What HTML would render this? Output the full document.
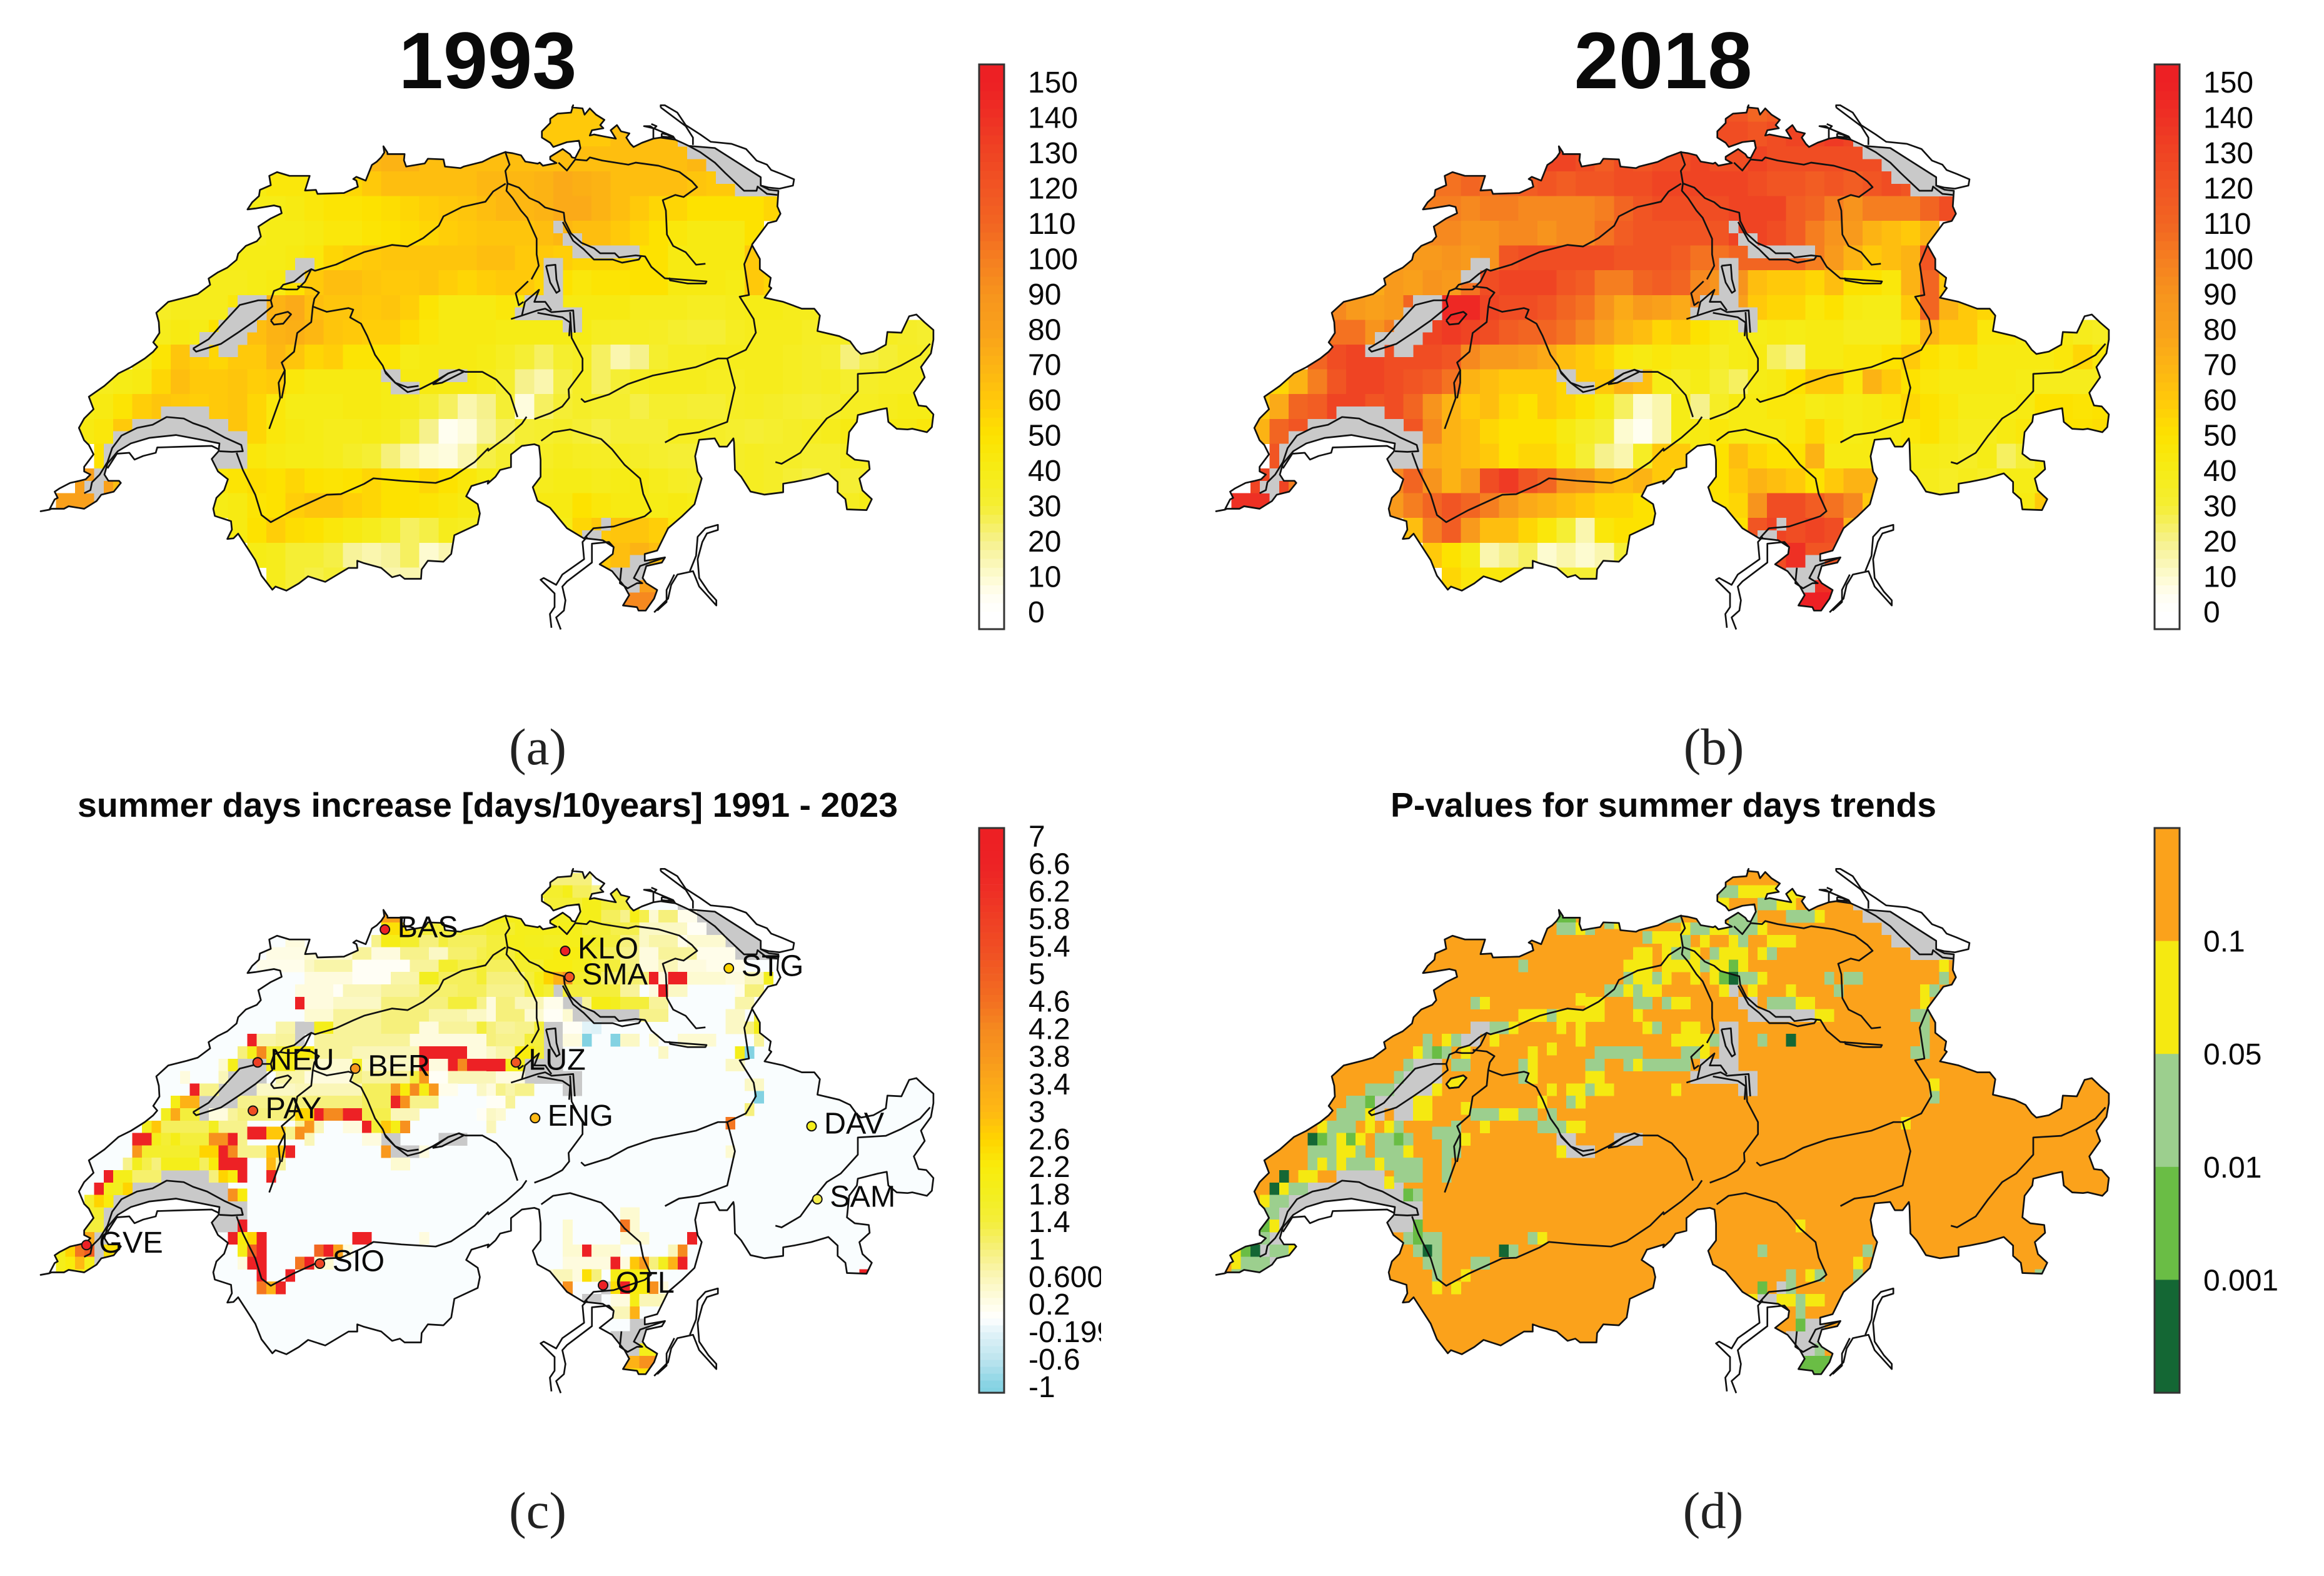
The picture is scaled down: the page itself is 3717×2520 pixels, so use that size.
<!DOCTYPE html>
<html lang="en">
<head>
<meta charset="utf-8">
<title>Summer days in Switzerland</title>
<style>
html,body{margin:0;padding:0;background:#fff}
svg{display:block}
text{font-family:"Liberation Sans",sans-serif;fill:#0a0a0a}
.cap{font-family:"Liberation Serif",serif;font-size:83px;fill:#222}
</style>
</head>
<body>
<svg id="fig" xmlns="http://www.w3.org/2000/svg" width="3717" height="2520" viewBox="0 0 3717 2520">
<defs>
<clipPath id="ch"><path id="chPath" d=""/></clipPath>
<clipPath id="tickClip"><rect x="1600" y="1300" width="161" height="960"/></clipPath>
</defs>
<rect width="3717" height="2520" fill="#fff"/>
<g id="pa"></g>
<g id="pb" transform="translate(1880,0)"></g>
<g id="pc" transform="translate(0,1221)"></g>
<g id="pd" transform="translate(1880,1221)"></g>
<text x="780" y="141" font-size="128" font-weight="700" text-anchor="middle">1993</text>
<text x="2660" y="141" font-size="128" font-weight="700" text-anchor="middle">2018</text>
<text x="124" y="1306" font-size="55" font-weight="700" textLength="1312" lengthAdjust="spacingAndGlyphs">summer days increase [days/10years] 1991 - 2023</text>
<text x="2224" y="1306" font-size="55" font-weight="700" textLength="873" lengthAdjust="spacingAndGlyphs">P-values for summer days trends</text>
<text class="cap" x="860" y="1222" text-anchor="middle">(a)</text>
<text class="cap" x="2741" y="1222" text-anchor="middle">(b)</text>
<text class="cap" x="860" y="2443" text-anchor="middle">(c)</text>
<text class="cap" x="2740" y="2443" text-anchor="middle">(d)</text>
</svg>
<script>
/* ---------- chart data ---------- */
const dayTicks=[0,10,20,30,40,50,60,70,80,90,100,110,120,130,140,150];
const trendTicks=["7","6.6","6.2","5.8","5.4","5","4.6","4.2","3.8","3.4","3","2.6","2.2","1.8","1.4","1","0.600","0.2","-0.199","-0.6","-1"];
const pTicks=["0.1","0.05","0.01","0.001"];
const pBreaks=[0.1,0.05,0.01,0.001];

/* summer days per coarse cell: [first column, values...] one entry per row */
const days1993=[
[26,[60,60,60,60]],
[26,[60,60,60,60,65,65,65,65,65]],
[17,[68,70,70,65,65,65,65,65,65,65,65,65,65,65,65,65,65,68,62,60,55]],
[11,[42,45,45,45,50,55,60,65,65,65,65,65,68,68,68,70,75,72,70,65,65,65,65,62,60,60,60,60]],
[11,[40,40,42,45,48,48,50,52,55,58,60,62,65,68,68,70,75,75,70,65,60,55,55,50,50,50,50,55]],
[11,[38,40,40,42,45,45,48,50,52,55,58,60,62,62,62,65,68,65,65,60,55,50,45,42,42,42,50]],
[9,[40,40,40,40,42,45,55,58,60,62,62,62,62,62,65,65,60,60,58,55,55,55,50,50,42,42,42,42,60]],
[7,[38,38,38,38,40,42,50,60,65,65,62,60,60,62,58,55,58,60,60,55,50,45,48,48,50,50,42,42,42,40,60,55]],
[6,[35,38,38,38,45,55,70,75,65,62,62,60,62,58,48,42,42,42,45,42,42,42,42,42,42,38,38,38,36,36,38,40,40,38,38]],
[6,[38,42,40,50,60,65,70,72,68,62,60,58,58,52,45,42,42,42,40,40,40,40,40,36,35,36,35,32,30,30,36,38,38,38,35,36,36,38,36,34,32]],
[5,[38,48,62,58,55,60,60,68,62,55,58,48,48,48,40,42,42,42,40,36,30,25,32,35,25,15,20,32,36,36,38,38,38,38,36,34,32,22,28,30,35,34]],
[3,[38,40,42,55,65,60,60,62,58,60,45,42,42,42,42,40,42,42,42,42,38,32,20,15,28,35,25,30,36,38,38,38,36,36,38,38,36,34,36,32,34,36,36,36]],
[2,[40,42,48,58,62,60,58,60,62,55,45,40,40,40,42,42,40,38,30,25,15,20,30,8,25,30,34,32,32,28,32,32,30,30,35,36,34,32,30,32,36,36,38,40,40]],
[2,[42,45,60,60,60,60,58,62,62,55,45,42,40,38,38,40,38,30,20,5,8,18,25,30,32,34,30,28,30,30,30,36,36,34,32,30,32,34,36,38,42,42,42,42,45]],
[3,[50,55,55,55,55,55,55,50,45,42,40,40,38,34,30,22,15,10,8,15,28,32,32,35,38,36,35,36,34,32,30,30,32,34,36,34,34,32,32,36,36,40]],
[2,[80,80,65,55,50,48,45,45,48,52,50,55,50,48,50,55,50,50,55,50,45,40,38,38,38,40,40,38,40,42,38,35,34,34,34,36,34,30,28,32,30,32,36]],
[1,[80,80,80,80,70,65,60,50,40,42,48,50,58,62,62,58,55,50,50,48,45,42,42,42,42,42,42,50,45,42,42,40,42,40,38,36,34,30,30,32,34,36,40]],
[10,[42,50,58,52,50,45,42,38,32,25,28,38,36,36,40,40,40,40,55,60,62,62,58,45]],
[11,[40,38,30,30,28,18,15,18,25,10,15,20,20,20,20,20,20,20,60,65,70,65]],
[12,[38,30,28,30,30,25,15,15,15,15,15,15,15,15,15,15,15,65,70,80,80]],
[30,[95,95,95]]
];
const days2018=[
[26,[125,120,110,115]],
[26,[125,125,120,125,130,130,135,130,130]],
[17,[130,130,125,115,125,120,125,125,130,125,125,130,125,125,125,125,125,125,130,125,120]],
[11,[105,105,110,105,110,115,120,115,120,120,125,125,130,130,130,130,130,125,120,120,115,120,115,120,125,120,125,125]],
[11,[100,100,95,100,100,95,95,95,95,100,110,120,125,125,125,125,130,130,130,115,110,100,90,100,100,100,110,125]],
[11,[95,95,90,90,95,95,90,95,95,105,115,120,120,120,120,120,130,130,125,115,100,90,85,70,65,60,70]],
[9,[85,85,85,90,85,90,120,125,125,125,125,125,120,120,120,115,105,105,110,110,110,110,100,85,70,60,65,70,120]],
[7,[75,75,85,80,90,85,105,125,130,130,130,120,115,100,100,110,115,110,95,90,90,65,60,60,55,65,50,50,45,70,110,60]],
[6,[95,85,80,85,110,110,145,145,130,125,125,120,110,105,90,75,85,80,75,95,80,80,60,55,55,45,50,42,40,40,60,110,70,60,55]],
[6,[105,105,90,100,120,130,135,130,125,115,110,110,105,95,80,70,65,55,60,50,42,40,40,42,40,42,42,38,38,38,45,70,60,60,45,45,42,45,42,38,36]],
[5,[110,125,130,130,125,125,125,120,95,85,85,80,75,65,60,55,45,42,45,42,42,35,40,42,25,20,42,42,45,45,50,60,50,45,48,42,42,42,42,45,55,45]],
[3,[55,70,100,120,130,130,125,120,115,105,70,65,60,60,60,55,60,60,70,65,40,35,40,30,25,40,42,50,60,60,45,70,60,50,45,42,42,42,42,40,38,38,38,38]],
[2,[60,75,110,115,130,130,120,125,110,90,70,60,65,55,50,60,55,48,40,25,10,15,40,20,35,42,42,45,45,40,42,40,42,45,55,50,45,40,40,40,42,50,50,48,50]],
[2,[70,110,120,115,110,120,130,130,120,95,70,65,55,50,50,50,42,35,30,10,5,15,40,42,45,42,42,42,45,55,45,40,42,42,45,50,42,38,38,42,45,45,50,50,52]],
[3,[120,125,120,120,120,120,120,120,75,70,65,60,50,55,55,45,30,20,15,35,60,60,42,50,65,55,50,50,70,42,42,42,42,40,40,38,35,40,25,30,42,40,45]],
[2,[130,130,100,90,90,90,90,95,110,90,70,85,125,135,120,110,90,85,70,65,70,60,50,45,50,60,70,65,60,50,60,70,70,42,40,38,35,38,35,40,40,42,42]],
[1,[140,140,135,135,130,125,110,100,85,100,110,120,110,100,85,75,70,65,60,55,55,50,50,50,50,50,55,90,125,125,115,105,95,60,50,42,40,38,38,38,40,42,60]],
[10,[65,100,115,85,65,65,55,45,30,15,45,50,50,50,50,50,50,50,120,130,125,130,125,70]],
[11,[60,50,40,15,20,25,10,15,10,15,30,30,30,30,30,30,30,110,125,140,120,120]],
[12,[55,45,45,45,45,40,30,30,30,30,30,30,30,30,30,30,30,130,130,140,140]],
[30,[150,150,150]]
];

/* trend per fine cell: [row, first col, last col, days/10yr] */
const trendBase=-0.04;
const trendCells=[
[4,36,37,3.6],[5,36,38,2.4],[5,39,48,1.4],[5,49,50,1.8],[6,26,27,.3],[6,35,35,.9],[6,36,37,2],[6,38,39,1.6],[6,40,41,1],[6,42,42,1.4],[6,43,46,1.2],[6,47,48,1.6],[6,49,50,2],
[7,24,27,.25],[7,28,32,.4],[7,33,34,.8],[7,35,37,.3],[7,38,40,.9],[7,41,42,.5],[7,43,45,1.1],[7,46,47,1.3],[7,48,50,1.7],
[8,23,27,.2],[8,28,28,.5],[8,29,32,.7],[8,33,38,.1],[8,39,41,.8],[8,42,43,1.6],[8,44,45,1.3],[8,46,50,1.5],
[9,28,32,.3],[9,33,36,.1],[9,37,39,.7],[9,40,41,1.8],[9,42,45,1.2],[9,46,50,1.5],
[10,27,30,.3],[10,31,31,.1],[10,32,35,.6],[10,36,39,.8],[10,40,43,1.1],[10,44,50,1.2],
[11,27,27,6.8],[11,28,30,.3],[11,31,35,.5],[11,36,42,1],[11,43,45,1.4],[11,46,47,.9],[11,48,50,1.1],
[12,28,30,.4],[12,31,35,.8],[12,36,40,1],[12,41,44,.7],[12,45,47,.5],[12,48,50,1],
[13,25,26,.7],[13,29,30,1.9],[13,31,35,.8],[13,36,39,1],[13,40,41,.3],[13,42,45,.8],[13,46,46,1.4],[13,47,50,.6],
[14,22,22,6.8],[14,23,24,.7],[14,25,26,.8],[14,29,38,.8],[14,39,50,.3],
[15,21,21,1],[15,22,22,1.9],[15,23,23,4.2],[15,24,25,1.5],[15,26,28,2.2],[15,29,32,.8],[15,33,39,.6],[15,40,44,6.8],[15,45,50,.3],
[16,19,19,.4],[16,20,20,1.9],[16,24,26,1.9],[16,27,28,.8],[16,29,32,.4],[16,33,33,1.8],[16,34,39,.5],[16,40,40,6.8],[16,41,42,.3],[16,43,43,6.8],[16,44,44,4.2],[16,45,48,6.8],[16,49,50,1.8],
[17,15,15,.3],[17,19,19,.6],[17,25,27,.7],[17,28,32,.3],[17,33,33,1],[17,34,38,.8],[17,39,39,1.4],[17,40,40,3.8],[17,41,42,.1],[17,43,47,.6],[17,48,50,.3],
[18,16,16,6.8],[18,17,18,.9],[18,23,26,.5],[18,27,33,.6],[18,34,36,1.2],[18,37,37,3.8],[18,38,38,2.2],[18,39,39,4.2],[18,40,40,2],[18,41,41,3.8],[18,42,43,.2],[18,46,48,.5],
[19,14,14,2],[19,15,16,3.2],[19,21,26,.9],[19,27,33,1],[19,34,36,1.2],[19,37,37,6.5],[19,38,38,4],[19,39,41,.9],[19,49,49,.8],
[20,13,13,1.8],[20,14,14,3.4],[20,15,16,1.4],[20,18,19,.3],[20,20,20,.8],[20,21,26,1],[20,27,28,2.6],[20,29,29,6.8],[20,30,31,4.2],[20,32,33,6.8],[20,34,36,1.3],[20,37,39,.6],[20,46,47,.1],
[21,11,11,1.8],[21,12,12,2.8],[21,13,17,1.2],[21,18,18,1.8],[21,19,21,.9],[21,27,27,.8],[21,28,28,3.8],[21,29,29,.6],[21,32,33,.3],[21,34,34,6.8],[21,35,35,1.5],[21,36,36,2.8],[21,37,37,2],[21,38,38,4],
[21.5,22,23,6.8],[21.5,24,25,2.8],[21.5,26,26,.9],[21.5,27,27,4],
[22,10,11,6.5],[22,12,12,1.9],[22,13,13,1.5],[22,14,14,2],[22,15,17,1.4],[22,18,19,4],[22,20,20,6.8],[22,21,21,.9],[22,28,28,.6],[22,34,35,.3],
[23,10,10,3.8],[23,11,16,1.6],[23,17,18,2.6],[23,19,19,6.8],[23,20,20,4.2],[23,21,23,.9],[23,24,25,2.8],[23,26,26,6.5],[23,36,36,3.8],[23,40,40,.3],
[24,9,9,.9],[24,10,10,1.8],[24,11,11,1.3],[24,12,12,1],[24,13,16,1.9],[24,17,17,1.2],[24,18,18,2.2],[24,19,21,6.8],[24,24,24,3],[24,25,25,.8],[24,37,38,.4],
[25,7,7,6.8],[25,8,9,1.9],[25,10,12,1.1],[25,18,18,1],[25,19,19,2.6],[25,20,20,2.2],[25,21,21,6.8],[25,24,24,6.5],
[26,6,6,6.8],[26,7,7,1.9],[26,8,8,1.8],[26,9,9,2.6],[26.5,20,20,4],[26.5,21,21,2.2],
[27,5,5,1.6],[27,6,6,2.6],[27,7,7,2.2],[28,5,6,1.6],[29,5,6,1.4],[29,21,21,6.8],
[30,5,5,3.4],[30,20,20,6.8],[30,21,21,2.2],[30,22,22,2.6],[30,23,23,6.8],[30,33,34,6.8],[30,40,40,.3],
[31,2,2,1.8],[31,3,3,2.6],[31,4,4,4.5],[31,5,5,5],[31,7,8,2.4],[31,21,21,2],[31,22,22,5],[31,23,23,6.8],[31,29,29,4.8],[31,30,30,6.8],[31,31,31,3.6],[31,32,32,.3],
[32,2,2,1.9],[32,3,3,2.2],[32,4,4,3],[32,5,5,1.9],[32,21,21,.3],[32,22,23,6.8],[32,27,27,4.5],[32,28,28,6.8],[32,29,30,.4],
[33,2,5,2],[33,23,23,6.8],[33,26,26,6.8],[34,23,23,4.5],[34,24,24,3.2],[34,25,25,6.5],
[1,53,57,1],[2,52,52,1.4],[2,53,54,1.6],[2,55,55,1.9],[2,56,57,1.2],[2,58,59,.9],[2,60,61,1.5],[3,53,56,1.5],[3,57,58,1.9],[3,59,62,1.4],
[4,47,52,1.9],[4,53,56,1.8],[4,57,58,1.9],[4,59,60,1.2],[4,61,61,.9],[4,62,62,2],[4,63,63,1.3],[4,64,64,.4],[4,65,66,1],[4,67,68,.2],
[5,47,49,1.6],[5,50,56,1.9],[5,57,59,1.5],[5,60,62,1.3],[5,63,67,.5],[5,68,69,.1],
[6,47,48,1.4],[6,49,50,1.9],[6,51,52,1.8],[6,53,54,1.7],[6,55,56,1.9],[6,57,58,1.7],[6,59,60,1.4],[6,61,62,1],[6,63,63,.5],[6,64,66,.7],[6,67,67,.2],[6,68,71,.4],
[7,47,49,1.4],[7,50,53,1.9],[7,54,56,2.1],[7,57,58,1.6],[7,59,60,1.2],[7,61,62,.9],[7,63,64,.3],[7,65,68,.8],[7,69,72,.2],
[8,47,49,1.2],[8,50,52,1.6],[8,53,55,2.1],[8,56,57,1.9],[8,58,60,1.4],[8,61,62,1],[8,63,64,.3],[8,65,66,.6],[8,67,69,.3],[8,70,73,.2],
[9,47,50,1],[9,51,51,1.4],[9,52,52,2],[9,53,53,2.6],[9,54,54,3.2],[9,55,55,4],[9,56,58,1.6],[9,59,62,1.1],[9,63,63,1],[9,64,64,6.8],[9,65,65,.3],[9,66,67,6.8],[9,68,71,.4],[9,72,73,.3],[9,74,75,.6],[9,76,76,1.8],
[10,47,50,.9],[10,51,51,1.3],[10,52,52,1.8],[10,53,53,1.5],[10,55,60,1.4],[10,61,62,.8],[10,64,64,.3],[10,65,65,6.8],[10,66,67,.5],[10,73,73,.2],[10,74,75,1],
[11,47,47,.3],[11,48,49,1],[11,50,52,.6],[11,53,54,.2],[11,57,57,.8],[11,58,59,2],[11,60,60,1.8],[11,61,63,1.4],[11,64,65,.8],[11,73,74,.7],
[12,47,47,.3],[12,48,50,1],[12,51,52,.4],[12,53,54,.1],[12,55,55,.4],[12,63,65,.9],[12,72,73,.5],[12,75,75,1.4],
[13,47,47,1],[13,48,49,.8],[13,50,51,.9],[13,52,52,1.5],[13,55,56,.1],[13,57,57,-.2],[13,58,58,-.25],[13,72,73,.5],[13,74,74,1],[13,75,75,1.9],
[14,47,47,1],[14,48,50,.9],[14,51,52,1.4],[14,55,56,.3],[14,57,57,-1],[14,60,60,-1],[14,61,62,.5],[14,64,64,.4],[14,67,70,.4],[14,75,75,.8],
[15,47,47,.5],[15,48,49,.7],[15,50,51,2.2],[15,52,52,1.5],[15,65,65,.5],[15,73,73,1.9],[15,74,74,-1],
[16,47,48,6.8],[16,49,50,1.9],[16,72,73,.5],[18,47,47,.3],[18,48,48,.9],[18,49,49,.7],[18,50,51,.9],[17.6,74,75,.5],[18.6,75,75,-1],
[19,47,48,.1],[19,49,49,.8],[20,47,47,.5],[20,48,48,.4],[19.6,74,74,1],[21,47,47,.6],[20.7,72,72,4.5],[23,72,72,.4],
[28,61,62,.4],[29,55,55,.4],[29,61,61,4.5],[29,62,62,.4],[30,55,55,.4],[30,61,63,.4],[30,68,68,6.8],[31,55,56,.4],[31,57,57,6.8],[31,58,60,.4],[31,66,66,.6],[31,67,67,4.2],
[32,55,59,.3],[32,60,60,6.8],[32,61,61,.3],[32,62,62,2.8],[32,63,63,3.8],[32,64,64,1],[32,65,65,1.8],[32,66,66,3.2],[32,67,67,6.8],
[33,53,53,.4],[33,54,55,.6],[33,56,56,.3],[33,57,57,2.4],[33,58,58,1],[33,60,63,2],[33,86,86,6.8],[34,55,55,4],[34,60,60,2.4],[34,61,61,6.8],[34,62,63,2.2],[34,64,64,4],[34,65,65,.3],
[35,60,61,.3],[35,62,62,2],[35,63,65,.6],[36,59,61,.6],[36,62,62,3.2],[39,63,64,1.9],[40,61,62,3.2],[40,63,64,4],[41,60,64,2.4]
];

/* p-value per fine cell: [row, first col, last col, p]; all other land cells use pBase */
const pBase=0.2;
const pValueCells=[
[4,36,37,.005],[5,36,37,.03],[5,38,38,.07],[5,39,39,.03],[4.5,41,41,.03],[4.5,42,42,.07],[5.7,45,45,.03],[5.7,46,48,.07],
[7,44,45,.07],[7,47,47,.07],[8,32,32,.03],[8,43,45,.07],[8,47,47,.07],[8,48,49,.07],[9,43,43,.03],[9,44,45,.07],[9,46,46,.03],[9,47,47,.07],
[10,41,42,.03],[10,43,43,.07],[10,44,44,.03],[10,45,46,.07],[10.7,38,38,.07],[11,27,27,.03],[11,28,28,.07],[11,39,40,.07],[11,44,45,.03],[11,47,47,.07],[11,48,48,.03],[11,49,49,.07],
[12,32,34,.07],[12,35,35,.03],[12,36,40,.07],[12,44,44,.07],[13,29,30,.03],[13,31,31,.07],[13,36,36,.07],[13,38,38,.07],[13,45,45,.07],[13,46,46,.03],[13,50,50,.07],
[14,22,22,.03],[14,24,24,.07],[14,25,25,.03],[14,29,29,.07],[14,38,38,.07],[14,48,50,.07],[14.7,35,35,.07],
[15,21,21,.07],[15,22,22,.03],[15,23,23,.005],[15,24,24,.03],[15,26,26,.07],[15,33,33,.07],[15,40,44,.03],[15,49,50,.03],
[16,20,20,.03],[16,25,26,.03],[16,32,32,.03],[16,33,33,.07],[16,39,40,.03],[16,43,43,.03],[16,44,44,.07],[16,45,48,.03],
[17,19,19,.03],[17,32,32,.03],[17,33,33,.07],[17,39,40,.07],
[18,16,18,.03],[18,23,23,.07],[18,35,35,.07],[18,37,38,.07],[18,39,39,.03],[18,40,41,.07],[18,48,48,.07],
[19,14,15,.03],[19,16,16,.005],[19,21,22,.07],[19,34,34,.07],[19,37,37,.03],[19,38,38,.07],[19.5,26,26,.07],
[20,13,15,.03],[20,16,16,.07],[20,21,22,.07],[20,27,29,.03],[20,30,31,.07],[20,32,33,.03],[20,35,35,.03],
[21,11,11,.07],[21,12,14,.03],[21,16,16,.07],[21,18,18,.07],[21,19,19,.03],[21,25,25,.03],[21,28,28,.07],[21,34,36,.03],[21,37,38,.07],[21.5,23,25,.03],
[22,10,10,.0005],[22,11,11,.005],[22,12,12,.03],[22,13,13,.07],[22,14,14,.005],[22,15,15,.07],[22,17,18,.03],[22,19,19,.005],[22,20,20,.03],[22,24,25,.03],[22,26,26,.07],
[23,10,12,.03],[23,13,14,.07],[23,15,15,.03],[23,17,19,.03],[23,20,20,.07],[23,24,25,.03],[23,36,36,.07],
[24,10,10,.03],[24,11,11,.07],[24,12,12,.03],[24,13,13,.07],[24,14,16,.03],[24,17,17,.07],[24,18,21,.03],[24,24,24,.03],
[25,7,7,.0005],[25,9,10,.07],[25.5,18,18,.07],[25,19,21,.03],[25,24,24,.03],
[26,6,6,.0005],[26,7,7,.07],[26,8,9,.03],[26.5,20,20,.005],[26.5,21,21,.03],
[27,5,5,.07],[27,6,7,.03],[28,5,6,.03],[29,5,5,.005],[29,6,6,.07],[29,21,21,.005],
[30,5,5,.03],[30,20,20,.03],[30,21,21,.005],[30,22,23,.03],[30,33,33,.03],[30,34,34,.07],
[31,2,3,.07],[31,3,4,.005],[31,4,4,.0005],[31,6,7,.03],[31,8,8,.07],[31,21,21,.03],[31,22,22,.0005],[31,23,23,.03],[31,30,30,.0005],[31,31,31,.03],
[32,2,2,.07],[32,3,5,.03],[32,22,23,.03],[32,27,28,.03],[33,2,5,.03],[33,23,23,.03],[33,26,26,.07],[34,23,23,.07],[34,25,25,.07],
[2,53,54,.03],[2,55,58,.07],[2,60,61,.07],[3,52,53,.07],[3,57,58,.03],[3,59,60,.07],
[4,47,48,.03],[4,54,56,.03],[4,60,62,.03],[4,63,63,.07],[5,49,49,.07],[5,50,51,.03],[5,52,53,.07],[5,54,56,.03],[5,57,57,.07],
[6,47,48,.07],[6,49,49,.03],[6,51,51,.07],[6,54,54,.07],[6,55,55,.03],[6,58,60,.07],
[7,47,47,.07],[7,48,49,.03],[7,50,50,.07],[7,52,52,.03],[7,53,55,.07],[7,57,57,.07],[7,58,58,.03],
[8,47,49,.07],[8,50,50,.07],[8,51,51,.03],[8,52,53,.07],[8,54,54,.005],[8,55,55,.07],[8,76,76,.07],
[9,50,50,.07],[9,52,52,.07],[9,53,53,.005],[9,54,54,.0005],[9,55,56,.03],[9,57,57,.07],[9,64,64,.03],[9,66,67,.03],[9,76,76,.03],
[10,53,53,.07],[10,56,56,.07],[10,60,60,.07],[10,65,65,.03],[10,74,74,.07],[10,75,75,.03],
[11,47,47,.03],[11,48,48,.07],[11,58,60,.03],[11,61,62,.07],[11,74,74,.07],
[12,63,64,.07],[12,73,73,.03],[12,74,74,.03],[13,49,49,.07],[13,74,74,.03],
[14,48,49,.07],[14,51,51,.07],[14,52,52,.03],[14,57,57,.03],[14,60,60,.0005],[14,74,74,.03],
[15,49,50,.03],[15,51,51,.07],[15,73,74,.03],[16,47,49,.03],[18,48,48,.07],[17.6,75,75,.07],[18.6,75,75,.03],[20.7,72,72,.07],
[29,61,61,.07],[31,57,57,.03],[31,68,68,.03],[32,67,67,.07],[33,60,60,.03],[33,62,62,.07],[33,63,63,.03],[33,67,67,.03],[33,86,86,.03],
[34,57,57,.005],[34,60,60,.03],[35,55,56,.07],[35,59,60,.07],[35,61,61,.03],[35,62,63,.07],[36,61,61,.03],[37,61,61,.005],[39,63,63,.03],[40,61,64,.005],[41,60,63,.005]
];

/* cells with no data (lakes): [row, first col, last col] */
const lakeCells=[
[13,27,28],[14,26,27],[16,21,23],[17,20,23],[18,19,22],[19,17,21],[20,16,17],[20,19,20],
[25,13,17],[26,10,19],[27,8,21],[28,7,21],[29,7,8],[29,18,21],[30,6,7],[31,5,6],[32,6,6],
[22,36,37],[23,37,39],[22,42,44],
[13,53,54],[14,53,54],[15,53,54],[16,51,54],[17,50,56],[18,55,56],
[10,54,54],[11,55,56],[12,56,62],
[3,67,68],[4,68,75],[5,70,76],[6,71,75],[7,73,77],
[34,59,59],[35,57,58],[37,62,63],[38,60,63],[39,61,62]
];

const stationNames=["BAS","NEU","BER","PAY","GVE","SIO","LUZ","KLO","SMA","STG","ENG","DAV","SAM","OTL"];
const stationValues=[6.6,5.8,3.8,5.4,6.8,5.6,5.2,6.8,5.2,2.6,3.0,1.9,1.3,6.8];
const stationCols=[36.4,23.1,33.3,22.6,5.2,29.6,50.1,55.25,55.7,72.35,52.1,81,81.6,59.2];
const stationRows=[5.57,16.3,16.8,20.2,31.05,32.55,16.3,7.3,9.4,8.7,20.8,21.45,27.35,34.3];

/* colour ramps: [value, colour] */
const dayRamp=[[0,"#ffffff"],[5,"#fffef0"],[10,"#fdfbd0"],[20,"#f6f18c"],[30,"#f5ee34"],[40,"#f6ec16"],[50,"#fde200"],[60,"#ffc90a"],[70,"#fcb314"],[80,"#f9a01b"],[90,"#f7941d"],[100,"#f57e20"],[110,"#f26522"],[120,"#f15523"],[130,"#ef4423"],[140,"#ee3024"],[150,"#ed2024"]];
const trendRamp=[[-1,"#83d2e2"],[-.6,"#bce4ee"],[-.2,"#e2f3f8"],[0,"#ffffff"],[.2,"#fffdea"],[.6,"#faf6b8"],[1,"#f6f07c"],[1.4,"#f4ee3c"],[1.8,"#f3ee1f"],[2.2,"#f9ec0c"],[2.6,"#ffd400"],[3,"#feb913"],[3.4,"#fbaa18"],[3.8,"#f8981d"],[4.2,"#f58a1f"],[4.6,"#f37021"],[5,"#f15e22"],[5.4,"#f04d23"],[5.8,"#ef3f24"],[6.2,"#ee2f25"],[6.6,"#ed2225"],[7,"#ed2024"]];
const pColours=["#fba21b","#f5e911","#9ccf8e","#6abd45","#146734"];

/* base-map geometry, traced in three reference frames */
const outlineWestA=[10,1203,38,1198,55,1165,65,1160,55,1140,70,1130,105,1112,135,1105,155,1100,170,1085,150,1075,150,1060,180,1020,165,990,150,975,133,935,150,905,180,875,165,835,215,800,260,760,300,740,345,712,372,690,385,675,372,660,392,630,390,595,382,565,420,530,480,515,515,505,555,475,550,455,580,435,610,420,640,395,645,375,670,350,705,335,718,320,710,288,750,262,785,245,780,225,760,220,700,230,675,233,690,210,712,190,715,170,750,155,745,125,770,113,810,125,875,125,860,172,895,170,900,183,985,180,1030,160,1025,140,1015,135,1025,128,1055,140,1075,90,1090,80,1105,65,1115,50,1112,30,1125,50,1125,55,1180,55,1178,75,1185,95,1245,85,1255,70,1305,72,1310,95,1360,100,1370,95,1430,80,1460,65,1505,48];
const outlineNorth=[25,310,60,315,100,325,120,355,180,365,190,360,205,375,270,362,240,345,240,332,300,295,335,320,345,335,360,338,385,290,378,255,320,262,255,285,240,265,200,240,200,210,240,170,240,150,275,125,340,120,350,85,345,95,395,100,405,130,430,100,460,130,500,155,480,180,495,195,440,205,430,230,450,225,500,235,555,245,530,205,560,180,580,210,620,220,605,240,625,270,640,285,680,265,735,245,770,240,840,250,880,268,905,280,1030,290,1250,430,1250,470,1290,490,1335,495,1330,570,1345,605,1325,640,1285,650,1209,752];
const outlineEast=[850,425,875,465,875,495,910,520,905,545,912,550,890,578,950,590,1010,610,1050,610,1068,630,1060,675,1130,690,1165,705,1185,730,1200,742,1240,735,1280,715,1285,678,1330,680,1355,632,1378,627,1405,650,1433,672,1433,700,1425,740,1393,780,1405,810,1370,855,1385,892,1410,895,1433,918,1428,955,1412,970,1365,960,1350,962,1315,960,1288,940,1283,900,1255,905,1190,920,1187,940,1162,970,1155,1033,1180,1050,1225,1055,1228,1078,1195,1105,1205,1140,1235,1165,1218,1197,1155,1195,1150,1165,1125,1145,1125,1115,1095,1090,1040,1105,985,1115,950,1120,950,1145,890,1152,845,1143,815,1100,795,1080,792,1000,790,988,770,1012,745,1012,730,988,680,992,667,1040,675,1085,688,1105,665,1180,625,1215,580,1250,545,1315,505,1325,505,1345,570,1335,560,1350,510,1360,498,1395,510,1410,545,1430,535,1455,508,1490,485,1490,480,1480,435,1475,455,1445,440,1420,400,1375,360,1355,402,1325,405,1305,370,1285,320,1280,310,1280,255,1250,200,1190,160,1170,145,1130,170,1100,170,1050,165,1010,150,1005,110,1010,75,1035,75,1072,40,1080,25,1100,0,1120];
const outlineWestB=[1450,1105,1395,1122,1378,1155,1415,1180,1422,1210,1415,1245,1340,1280,1330,1340,1305,1365,1255,1362,1235,1390,1233,1420,1180,1420,1165,1408,1140,1415,1105,1385,1050,1370,1028,1362,1028,1385,1000,1385,925,1430,870,1412,840,1435,800,1458,765,1445,755,1455,720,1410,700,1360,645,1275,630,1290,610,1292,625,1262,622,1235,570,1218,565,1195,575,1160,600,1135,612,1100,580,1075,560,1035,582,1010,585,985,520,972,445,958,360,967,300,985,258,1010,225,1050,215,1085,228,1105,262,1105,268,1112,245,1140,205,1150,190,1170,150,1195,100,1187,85,1195,45,1195,38,1198,10,1203];
const linesWest=[
[780,487,790,475,825,465,855,440,880,425,860,465,835,490,800,490,780,487],
[880,425,892,430,960,410,1015,385,1050,370,1140,347,1190,352,1240,325,1290,285,1305,255,1365,225,1440,208,1465,175,1505,150],
[500,680,550,650,590,605,650,540,710,525,750,525,755,545,700,590,650,625,590,665,510,690,500,680],
[750,525,760,495,780,487],
[835,480,880,485,905,500,890,520,885,545,930,562,1000,550,1015,555,1005,580,1040,600,1060,640,1085,700,1110,735,1120,760,1150,790,1190,820,1230,810,1270,790,1320,760,1355,748,1375,755,1430,755,1475,780,1520,830,1543,900],
[885,545,880,595,835,630,825,690,785,725,795,750,775,790,780,840,745,938],
[795,750,795,790,785,840],
[750,590,765,572,805,562,815,570,790,600,760,603,750,590],
[1115,750,1150,790,1190,805,1225,800],
[1270,795,1320,760,1355,748,1370,755,1300,790,1270,795],
[640,1015,660,1070,700,1150,720,1215,750,1238,820,1200,930,1150,975,1148,1050,1115,1080,1097,1170,1105,1280,1112,1330,1095,1405,1045,1450,1000],
[150,1145,170,1135,175,1110,200,1085,225,1045,240,1000,270,960,320,935,370,925,415,900,470,905,500,920,545,935,600,965,655,990,660,1010,625,1012,585,1010],
[225,1065,255,1018,295,1015,312,1037,340,1025,380,1015,385,998,480,995,560,993,585,1005]
];
const linesNorth=[
[280,360,320,398,360,345,415,350,430,335,490,350,615,370,650,360,760,375,860,405,920,450,945,478,880,525,840,515,780,540,795,590,800,705,830,760,890,790,940,850,985,845],
[25,310,45,370,25,400,35,460,30,495,60,530,100,590,130,625,175,725,175,800,185,855,150,920],
[35,460,90,480,140,530,185,550,215,575,305,600,310,640,340,700,390,745,450,770,480,795,550,795,570,815,650,805,695,810,725,860,790,915,990,930,985,940,900,940,815,925,810,912],
[300,645,350,735,400,775,450,825,540,825,585,840,665,825,675,810],
[220,855,265,850,270,920,285,975,270,985,240,935,220,855],
[770,95,770,85,790,85,850,120,890,180,960,225,1010,260,1110,270,1180,295,1230,350,1280,370,1300,395,1350,415,1410,440,1405,470,1340,485,1290,480,1250,470],
[770,95,890,185,925,240,925,275],
[905,280,960,310,1030,360,1080,410,1170,495,1230,495,1235,475,1280,510,1330,515],
[735,245,735,195,690,185,720,185,735,195,830,235,840,250],
[775,220,800,225,830,240,775,235,775,220],
[725,175,750,185,740,195]
];
const linesEast=[
[130,530,90,565,100,600,115,590],
[0,1025,60,985,110,945,125,925],
[150,932,200,915,240,895,262,870,260,845,305,790,305,755,270,695,265,620],
[172,995,210,970,265,962,330,980,365,990,400,1020,440,1065,490,1105,500,1150,525,1200,505,1215,405,1245,340,1250,310,1280],
[300,872,312,882,390,860,450,830,530,805,670,780,740,755,770,755,830,730,862,680,855,640,810,575,840,570,825,480,850,425],
[770,755,795,840,770,940,680,970,615,978,570,1000],
[1422,712,1390,745,1330,775,1280,795,1190,800,1190,850,1135,905,1090,930,1045,980,1005,1030,945,1062,925,1057],
[75,640,110,630,160,615,185,610,205,620,275,615,280,680],
[160,622,240,635,265,650,262,690],
[110,630,120,590,165,555,150,590,185,590,205,615],
[430,1365,425,1410,450,1425,480,1410,497,1410,470,1395,490,1360,570,1335],
[205,1540,200,1500,215,1480,215,1440,170,1400,180,1395,220,1415,240,1385,310,1340,305,1290,320,1275],
[235,1545,220,1510,245,1490,250,1460,240,1420,255,1405,335,1350,335,1295,390,1290,405,1305],
[535,1495,580,1455,590,1415,610,1385,660,1375,680,1420,700,1440,735,1475,735,1460,710,1435,680,1395,675,1340,690,1290,705,1265,740,1255,740,1240,700,1250,675,1275,670,1330,650,1375],
[545,1490,575,1465,575,1430,600,1385]
];
const murtenWest=[750,590,765,572,805,562,815,570,790,600,760,603,750,590];

/* ---------- axis functions ---------- */
const NS="http://www.w3.org/2000/svg";
const fineX=k=>58.7+15.3*k, fineY=m=>155+19.8*m;
const coarseX=c=>58.7+30.6*c, coarseY=r=>155+39.6*r;
const westPt=(x,y)=>[60+x/2.01,219+y/2.01], eastPt=(x,y)=>[780+x/2.01,159+y/1.823], northPt=(x,y)=>[800+x/3,140+y/3];
const barTop=103, barBottom=1006;
function dayBandY(v){return barBottom-(v+5)/160*(barBottom-barTop);}
function trendLabelY(i){return 116.5+i*44.03;}
function trendValueY(v){return 116.5+(7-v)/0.4*44.03;}

function hex(c){return [1,3,5].map(i=>parseInt(c.substr(i,2),16));}
function rampColour(ramp,v){
  if(v<=ramp[0][0])return ramp[0][1];
  for(let i=1;i<ramp.length;i++){
    if(v<=ramp[i][0]){
      const a=ramp[i-1],b=ramp[i],t=(v-a[0])/(b[0]-a[0]),x=hex(a[1]),y=hex(b[1]);
      return "rgb("+x.map((q,j)=>Math.round(q+(y[j]-q)*t)).join(",")+")";
    }
  }
  return ramp[ramp.length-1][1];
}
function pColour(p){
  let idx=0;
  pBreaks.forEach((b,i)=>{if(p<=b)idx=i+1;});
  return pColours[idx];
}
function toPath(list,fn,closed){
  let d="";
  for(let i=0;i<list.length;i+=2){
    const q=fn(list[i],list[i+1]);
    d+=(i?"L":"M")+q[0].toFixed(1)+" "+q[1].toFixed(1);
  }
  return d+(closed?"Z":"");
}
function outlinePath(){
  const pts=[];
  const add=(l,f)=>{for(let i=0;i<l.length;i+=2)pts.push(f(l[i],l[i+1]));};
  add(outlineWestA,westPt);add(outlineNorth,northPt);add(outlineEast,eastPt);add(outlineWestB,westPt);
  return pts.map((q,i)=>(i?"L":"M")+q[0].toFixed(1)+" "+q[1].toFixed(1)).join("")+"Z";
}
const OUTLINE=outlinePath();
document.getElementById("chPath").setAttribute("d",OUTLINE);

function addRect(parent,x,y,w,h,fill){
  const r=document.createElementNS(NS,"rect");
  r.setAttribute("x",x.toFixed(1));
  r.setAttribute("y",y.toFixed(1));
  r.setAttribute("width",w.toFixed(1));
  r.setAttribute("height",h.toFixed(1));
  r.setAttribute("fill",fill);
  parent.appendChild(r);
  return r;
}
function mapGroup(panel){
  const g=document.createElementNS(NS,"g");
  g.setAttribute("clip-path","url(#ch)");
  g.setAttribute("shape-rendering","crispEdges");
  
  
  panel.appendChild(g);
  return g;
}
function drawLakes(g){
  lakeCells.forEach(s=>{
    const r=addRect(g,fineX(s[1]),fineY(s[0]),15.3*(s[2]-s[1]+1)+.4,20.2,"#c9c9c9");
    
    
  });
}
function drawCoarse(g,rows,ramp){
  rows.forEach((row,r)=>{
    row[1].forEach((v,i)=>{
      const c=addRect(g,coarseX(row[0]+i),coarseY(r),31,40,rampColour(ramp,v));
      
      
    });
  });
}
function drawBaseMap(panel,lakeFill){
  const g=document.createElementNS(NS,"g");
  
  
  g.setAttribute("fill","none");
  g.setAttribute("stroke","#111");
  g.setAttribute("stroke-width","2.7");
  g.setAttribute("stroke-linejoin","round");
  panel.appendChild(g);
  if(lakeFill){
    const m=document.createElementNS(NS,"path");
    m.setAttribute("d",toPath(murtenWest,westPt,true));
    m.setAttribute("fill",lakeFill);
    
    
    g.appendChild(m);
  }
  const o=document.createElementNS(NS,"path");
  o.setAttribute("d",OUTLINE);
  
  
  g.appendChild(o);
  linesWest.forEach(l=>{
    const p=document.createElementNS(NS,"path");
    p.setAttribute("d",toPath(l,westPt,false));
    
    
    g.appendChild(p);
  });
  linesNorth.forEach(l=>{
    const p=document.createElementNS(NS,"path");
    p.setAttribute("d",toPath(l,northPt,false));
    
    
    g.appendChild(p);
  });
  linesEast.forEach(l=>{
    const p=document.createElementNS(NS,"path");
    p.setAttribute("d",toPath(l,eastPt,false));
    
    
    g.appendChild(p);
  });
}
function addTick(parent,x,y,label){
  const t=document.createElementNS(NS,"text");
  t.setAttribute("x",x);
  t.setAttribute("y",y);
  t.setAttribute("font-size","48");
  t.textContent=label;
  
  
  parent.appendChild(t);
}
function barFrame(parent){
  const f=document.createElementNS(NS,"rect");
  f.setAttribute("x",1566);
  f.setAttribute("y",barTop);
  f.setAttribute("width",40);
  f.setAttribute("height",barBottom-barTop);
  f.setAttribute("fill","none");
  f.setAttribute("stroke","#333");
  f.setAttribute("stroke-width","3");
  
  
  parent.appendChild(f);
}
function dayColorbar(panel){
  const g=document.createElementNS(NS,"g");
  
  
  panel.appendChild(g);
  for(let v=-5;v<155;v+=2.5){
    const y=dayBandY(v+2.5);
    const r=addRect(g,1566,y,40,dayBandY(v)-y+.6,rampColour(dayRamp,v+1.25));
    
    
  }
  barFrame(g);
  dayTicks.forEach(v=>addTick(g,1644,dayBandY(v)+17,String(v)));
}
function trendColorbar(panel){
  const g=document.createElementNS(NS,"g");
  
  
  panel.appendChild(g);
  for(let v=-1.1;v<7.15;v+=.1){
    const y1=Math.max(barTop,trendValueY(v+.1));
    const y2=Math.min(barBottom,trendValueY(v));
    if(y2<=y1)continue;
    const r=addRect(g,1566,y1,40,y2-y1+.3,rampColour(trendRamp,v+.05));
    
    
  }
  barFrame(g);
  const tg=document.createElementNS(NS,"g");
  tg.setAttribute("transform","translate(0,-1221)");
  tg.setAttribute("clip-path","url(#tickClip)");
  
  
  g.appendChild(tg);
  trendTicks.forEach((l,i)=>addTick(tg,1645,trendLabelY(i)+1221+16,l));
}
function pColorbar(panel){
  const g=document.createElementNS(NS,"g");
  
  
  panel.appendChild(g);
  const h=(barBottom-barTop)/pColours.length;
  pColours.forEach((c,i)=>{
    const r=addRect(g,1566,barTop+i*h,40,h+.5,c);
    
    
  });
  barFrame(g);
  pTicks.forEach((l,i)=>addTick(g,1644,barTop+(i+1)*h+17,l));
}

/* ---------- panels ---------- */
const pa=document.getElementById("pa"),pb=document.getElementById("pb"),pc=document.getElementById("pc"),pd=document.getElementById("pd");

let g=mapGroup(pa);
drawCoarse(g,days1993,dayRamp);
drawLakes(g);
drawBaseMap(pa);
dayColorbar(pa);

g=mapGroup(pb);
drawCoarse(g,days2018,dayRamp);
drawLakes(g);
drawBaseMap(pb);
dayColorbar(pb);

g=mapGroup(pc);
addRect(g,0,100,1560,900,rampColour(trendRamp,trendBase));
drawLakes(g);
trendCells.forEach(s=>{
  const r=addRect(g,fineX(s[1]),fineY(s[0]),15.3*(s[2]-s[1]+1)+.4,20.2,rampColour(trendRamp,s[3]));
  
  
});
drawBaseMap(pc);
trendColorbar(pc);
stationNames.forEach((name,i)=>{
  const x=fineX(stationCols[i]),y=fineY(stationRows[i]);
  const c=document.createElementNS(NS,"circle");
  c.setAttribute("cx",x.toFixed(1));
  c.setAttribute("cy",y.toFixed(1));
  c.setAttribute("r","7.5");
  c.setAttribute("fill",rampColour(trendRamp,stationValues[i]));
  c.setAttribute("stroke","#111");
  c.setAttribute("stroke-width","2");
  
  
  pc.appendChild(c);
  const t=document.createElementNS(NS,"text");
  t.setAttribute("x",(x+20).toFixed(1));
  t.setAttribute("y",(y+12).toFixed(1));
  t.setAttribute("font-size","48.5");
  t.textContent=name;
  
  
  pc.appendChild(t);
});

g=mapGroup(pd);
addRect(g,0,100,1560,900,pColour(pBase));
drawLakes(g);
pValueCells.forEach(s=>{
  const r=addRect(g,fineX(s[1]),fineY(s[0]),15.3*(s[2]-s[1]+1)+.4,20.2,pColour(s[3]));
  
  
});
drawBaseMap(pd,"#f5e911");
pColorbar(pd);
</script>
</body>
</html>
